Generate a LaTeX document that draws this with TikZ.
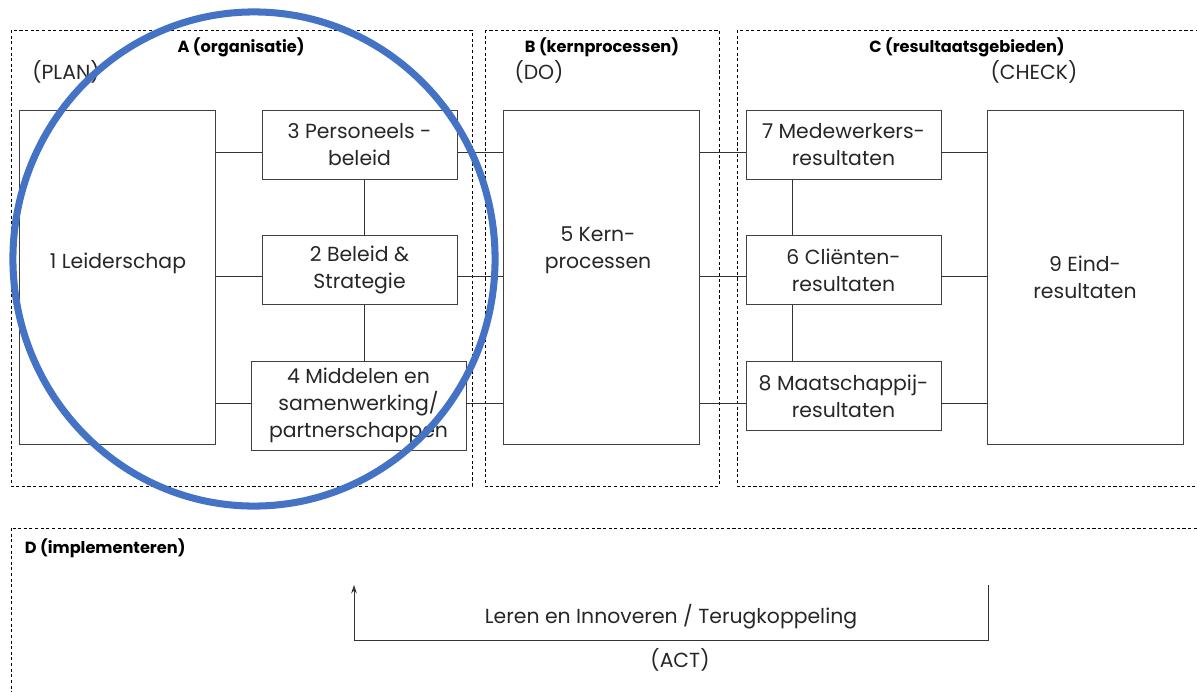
\documentclass[tikz,border=0pt]{standalone}
\usepackage{fontspec}
\setmainfont{Poppins}
\usepackage{xcolor}
\usetikzlibrary{arrows.meta}
\definecolor{ringblue}{HTML}{4472C4}
\definecolor{inkgray}{HTML}{262626}
\tikzset{
    area/.style={draw=black, dash pattern=on 2.2pt off 1.8pt, line width=0.6pt},
    block/.style={rectangle, draw=black!75, line width=0.6pt, minimum width=4.875cm, minimum height=1.725cm, inner sep=0pt, align=center, text=inkgray, font=\fontsize{14.5}{19}\selectfont},
    tallblock/.style={block, minimum width=4.9cm, minimum height=8.35cm},
    conn/.style={draw=black!80, line width=0.6pt},
    areatitle/.style={font=\fontsize{11.5}{13}\selectfont\bfseries, text=black},
    phase/.style={font=\fontsize{14.5}{19}\selectfont, text=inkgray, align=center},
    ring/.style={draw=ringblue, line width=5pt}
}

\begin{document}
\begin{tikzpicture}[x=0.025cm, y=-0.025cm]
\useasboundingbox (0,0) rectangle (1197,691);
\clip (0,0) rectangle (1197,691);

% Dashed areas
\draw[area] (11,30) rectangle (472,486);
\draw[area] (485,30) rectangle (719,486);
\draw[area] (737,30) rectangle (1215,486);
\draw[area] (11,528) rectangle (1215,710);

% Area titles
\node[areatitle] (titleA) at (241,47) {A (organisatie)};
\node[areatitle] (titleB) at (602,47) {B (kernprocessen)};
\node[areatitle] (titleC) at (967,47) {C (resultaatsgebieden)};
\node[areatitle, anchor=west] (titleD) at (20,548) {D (implementeren)};
\node[phase] (plan) at (66,72) {(PLAN)};
\node[phase] (do) at (539,72) {(DO)};
\node[phase] (check) at (1034,72) {(CHECK)};

% Organisation blocks
\node[tallblock] (lead) at (117.5,277) {};
\node[phase] (lead-txt) at (118,263) {1 Leiderschap};
\node[block] (pers) at (359.5,144.5) {3 Personeels -\\beleid};
\node[block] (bel) at (359.5,270) {2 Beleid \&\\Strategie};
\node[block, minimum width=5.375cm, minimum height=2.225cm] (mid) at (358.5,405.5) {4 Middelen en\\samenwerking/\\partnerschappen};

% Core processes
\node[tallblock] (kern) at (601.5,277) {};
\node[phase] (kern-txt) at (598,250) {5 Kern-\\processen};

% Result areas
\node[block] (med) at (843.5,144.5) {7 Medewerkers-\\resultaten};
\node[block] (cli) at (843.5,270) {6 Cliënten-\\resultaten};
\node[block] (maat) at (843.5,396) {8 Maatschappij-\\resultaten};
\node[tallblock] (eind) at (1085,277) {9 Eind-\\resultaten};

% Rows and columns of the connectors
\coordinate (r1) at (0,152);
\coordinate (r2) at (0,276);
\coordinate (r3) at (0,403);
\coordinate (c1) at (364,0);
\coordinate (c2) at (792,0);

\draw[conn] (lead.east |- r1) -- (pers.west |- r1);
\draw[conn] (lead.east |- r2) -- (bel.west |- r2);
\draw[conn] (lead.east |- r3) -- (mid.west |- r3);
\draw[conn] (pers.south -| c1) -- (bel.north -| c1);
\draw[conn] (bel.south -| c1) -- (mid.north -| c1);

\draw[conn] (pers.east |- r1) -- (kern.west |- r1);
\draw[conn] (bel.east |- r2) -- (kern.west |- r2);
\draw[conn] (mid.east |- r3) -- (kern.west |- r3);

\draw[conn] (kern.east |- r1) -- (med.west |- r1);
\draw[conn] (kern.east |- r2) -- (cli.west |- r2);
\draw[conn] (kern.east |- r3) -- (maat.west |- r3);
\draw[conn] (med.south -| c2) -- (cli.north -| c2);
\draw[conn] (cli.south -| c2) -- (maat.north -| c2);

\draw[conn] (med.east |- r1) -- (eind.west |- r1);
\draw[conn] (cli.east |- r2) -- (eind.west |- r2);
\draw[conn] (maat.east |- r3) -- (eind.west |- r3);

% Feedback loop
\coordinate (fbStart) at (988,585);
\coordinate (fbEnd) at (354,585);
\coordinate (fbLow) at (0,640);
\draw[conn, -{Stealth[length=6pt, width=4pt]}] (fbStart) -- (fbStart |- fbLow) -- (fbEnd |- fbLow) -- (fbEnd);
\node[phase] (learn) at (671,617) {Leren en Innoveren / Terugkoppeling};
\node[phase] (act) at (680,660) {(ACT)};

% Highlight ring
\draw[ring] (254,259) ellipse [x radius=6.025cm, y radius=6.175cm];
\end{tikzpicture}
\end{document}
